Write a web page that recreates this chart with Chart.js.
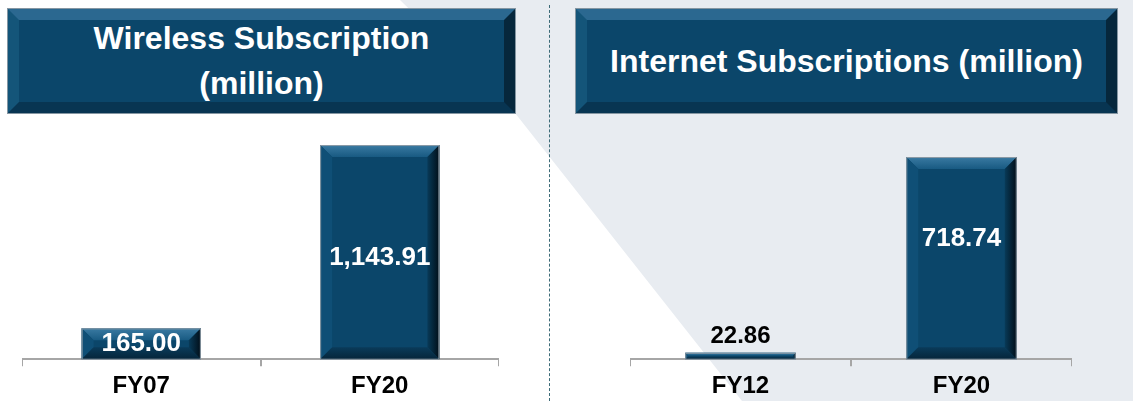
<!DOCTYPE html>
<html>
<head>
<meta charset="utf-8">
<script src="https://cdn.jsdelivr.net/npm/chart.js@4.4.1/dist/chart.umd.min.js"></script>
<style>
html, body { margin: 0; padding: 0; width: 1133px; height: 401px; overflow: hidden; background: #fff; font-family: "Liberation Sans", Arial, sans-serif; }
#bgShape { position: absolute; left: 0; top: 0; width: 1133px; height: 401px; background: #e8ecf1;
  clip-path: polygon(400px 0, 1133px 0, 1133px 401px, 742px 401px, 515px 113px); }
#divider { position: absolute; left: 549px; top: 5px; height: 396px; border-left: 1px dashed #3d6b78; }
.header { position: absolute; top: 9px; height: 104px; box-sizing: border-box; background: #0b466a;
  border-style: solid; border-width: 11px; border-color: #2b6890 #06273c #083552 #145579;
  outline: 1px solid #8596a2; color: #fff; font-weight: bold; font-size: 32px;
  display: flex; align-items: center; justify-content: center; text-align: center; line-height: 45px; }
.wrap { position: absolute; top: 128px; height: 281px; }
</style>
</head>
<body>
<div id="bgShape"></div>
<div id="divider"></div>
<div class="header" style="left:8px;width:507px;">Wireless Subscription<br>(million)</div>
<div class="header" style="left:576px;width:541px;">Internet Subscriptions (million)</div>
<div class="wrap" style="left:22px;width:477px;"><canvas id="wirelessChart" width="477" height="281"></canvas></div>
<div class="wrap" style="left:630px;width:442px;"><canvas id="internetChart" width="442" height="281"></canvas></div>

<script>
// datos
const wirelessYears = ['FY07', 'FY20'];
const wirelessValues = [165.00, 1143.91];
const wirelessLabels = ['165.00', '1,143.91'];

const internetYears = ['FY12', 'FY20'];
const internetValues = [22.86, 718.74];
const internetLabels = ['22.86', '718.74'];

const FONT = '"Liberation Sans", Arial, sans-serif';

// bisel de las barras + etiquetas de valor
const bevelPlugin = {
    id: 'bevelBars',
    afterDatasetsDraw(chart, args, opts) {
        const ctx = chart.ctx;
        const meta = chart.getDatasetMeta(0);
        meta.data.forEach((bar, i) => {
            const L = bar.x - bar.width / 2, R = bar.x + bar.width / 2;
            const T = bar.y, B = bar.base;
            const b = Math.min(12, (B - T) / 2.4, bar.width / 4);
            ctx.save();
            const poly = (pts, fill) => {
                ctx.beginPath();
                ctx.moveTo(pts[0][0], pts[0][1]);
                pts.slice(1).forEach(p => ctx.lineTo(p[0], p[1]));
                ctx.closePath();
                ctx.fillStyle = fill;
                ctx.fill();
            };
            const gTop = ctx.createLinearGradient(0, T, 0, T + b);
            gTop.addColorStop(0, '#3a7aa2');
            gTop.addColorStop(1, '#185a82');
            poly([[L, T], [R, T], [R - b, T + b], [L + b, T + b]], gTop);
            poly([[L, T], [L + b, T + b], [L + b, B - b], [L, B]], '#0f4f76');
            const gBot = ctx.createLinearGradient(0, B - b, 0, B);
            gBot.addColorStop(0, '#0a3b5a');
            gBot.addColorStop(1, '#05253a');
            poly([[L, B], [R, B], [R - b, B - b], [L + b, B - b]], gBot);
            const gRight = ctx.createLinearGradient(R - b, 0, R, 0);
            gRight.addColorStop(0, '#083a58');
            gRight.addColorStop(1, '#010e18');
            poly([[R, T], [R, B], [R - b, B - b], [R - b, T + b]], gRight);
            ctx.strokeStyle = '#8d9ba6';
            ctx.lineWidth = 1;
            ctx.strokeRect(L + 0.5, T + 0.5, bar.width - 1, B - T - 0.5);

            // etiqueta
            ctx.textAlign = 'center';
            ctx.textBaseline = 'middle';
            if (opts.inside[i]) {
                ctx.font = 'bold 26px ' + FONT;
                ctx.fillStyle = '#ffffff';
                ctx.fillText(opts.labels[i], bar.x, (T + B) / 2 + opts.shift[i]);
            } else {
                ctx.font = 'bold 24px ' + FONT;
                ctx.fillStyle = '#000000';
                ctx.fillText(opts.labels[i], bar.x, T - 16);
            }
            ctx.restore();
        });
    }
};

function makeChart(id, years, values, labels, yMax, inside, shift) {
    const ctx = document.getElementById(id).getContext('2d');
    return new Chart(ctx, {
        type: 'bar',
        data: {
            labels: years,
            datasets: [{
                data: values,
                backgroundColor: '#0b466a',
                borderWidth: 0,
                barPercentage: 0.5,
                categoryPercentage: 1.0
            }]
        },
        options: {
            responsive: false,
            animation: false,
            layout: { padding: { top: 0, bottom: 2, left: 0, right: 0 } },
            plugins: {
                legend: { display: false },
                tooltip: { enabled: false },
                bevelBars: { labels: labels, inside: inside, shift: shift }
            },
            scales: {
                x: {
                    border: { color: '#a6a6a6', width: 2 },
                    grid: { drawOnChartArea: false, tickLength: 7, color: '#a6a6a6', lineWidth: 2 },
                    ticks: { color: '#000', padding: 6, font: { family: FONT, size: 24, weight: 'bold' } }
                },
                y: { display: false, min: 0, max: yMax }
            }
        },
        plugins: [bevelPlugin]
    });
}

makeChart('wirelessChart', wirelessYears, wirelessValues, wirelessLabels, 1235, [true, true], [0, 6]);
makeChart('internetChart', internetYears, internetValues, internetLabels, 822, [false, true], [0, -19]);
</script>
</body>
</html>
